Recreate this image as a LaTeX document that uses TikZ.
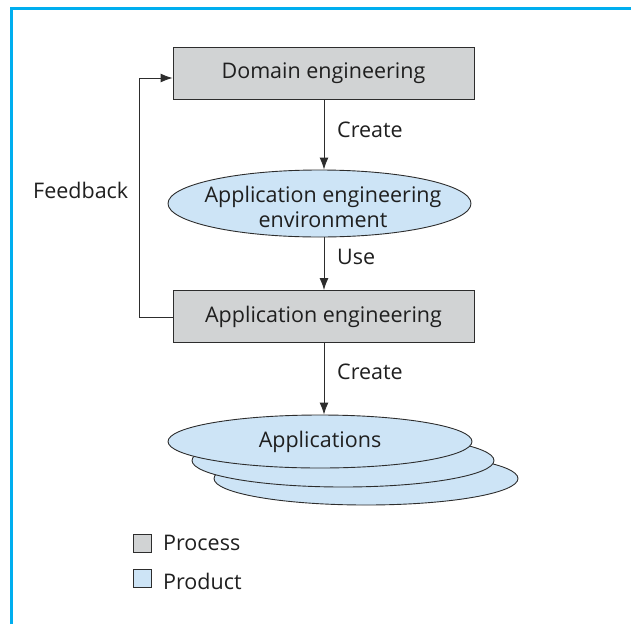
\documentclass[tikz,border=0pt]{standalone}
\usepackage{fontspec}
\setmainfont{Open Sans}
\usetikzlibrary{shapes.geometric,arrows.meta}
\definecolor{procgray}{RGB}{209,211,212}
\definecolor{prodblue}{RGB}{205,228,246}
\definecolor{framecyan}{RGB}{0,174,239}
\definecolor{edgegray}{RGB}{45,45,45}
\tikzset{
  every node/.style={font=\fontsize{21.5}{25}\selectfont, text=black!88},
  procbox/.style={draw=edgegray, line width=0.9pt, fill=procgray, minimum width=301pt, minimum height=52pt, inner sep=0pt},
  prodell/.style={draw=edgegray, line width=0.9pt, fill=prodblue, ellipse, inner sep=0pt, align=center},
  conn/.style={draw=edgegray, line width=0.9pt, -{Latex[length=12pt,width=9pt]}},
  lbl/.style={anchor=west, inner sep=0pt},
  legsq/.style={draw=edgegray, line width=0.8pt, minimum width=18pt, minimum height=18pt, inner sep=0pt}
}
\begin{document}
\begin{tikzpicture}[x=1pt,y=-1pt]
\useasboundingbox (0,0) rectangle (631,624);
% frame
\draw[framecyan, line width=3pt] (11,624) -- (11,8.5) -- (631,8.5);
% boxes
\node[procbox] (dom) at (323.5,73) {Domain engineering};
\node[prodell, minimum width=303pt, minimum height=67pt] (env) at (319.5,203.5) {};
\node[align=center, inner sep=0pt] (envtxt) at (323,207) {Application engineering\\environment};
\node[procbox] (appeng) at (323.5,316.5) {Application engineering};
\node[prodell, minimum width=304pt, minimum height=53pt] (app3) at (366,478.5) {};
\node[prodell, minimum width=302pt, minimum height=53pt] (app2) at (343,460.5) {};
\node[prodell, minimum width=304pt, minimum height=53pt] (app1) at (320,441.5) {Applications};
% connectors
\draw[conn] (dom.south -| 324,0) -- (env.north -| 324,0);
\draw[conn] (env.south -| 324,0) -- (appeng.north -| 324,0);
\draw[conn] (appeng.south -| 324,0) -- (app1.north -| 324,0);
\coordinate (fb1) at (139,317);
\coordinate (fb2) at (139,78);
\draw[conn] (appeng.west |- fb1) -- (fb1) -- (fb2) -- (dom.west |- fb2);
% labels
\node[lbl] (c1) at (337,130) {Create};
\node[lbl] (u1) at (337,257) {Use};
\node[lbl] (c2) at (337,372) {Create};
\node[lbl] (fb) at (33,190) {Feedback};
% legend
\node[legsq, fill=procgray] (lp) at (142.5,543) {};
\node[legsq, fill=prodblue] (lq) at (142.5,578.5) {};
\node[lbl] (lpt) at (163,543) {Process};
\node[lbl] (lqt) at (163,581) {Product};
\end{tikzpicture}
\end{document}
